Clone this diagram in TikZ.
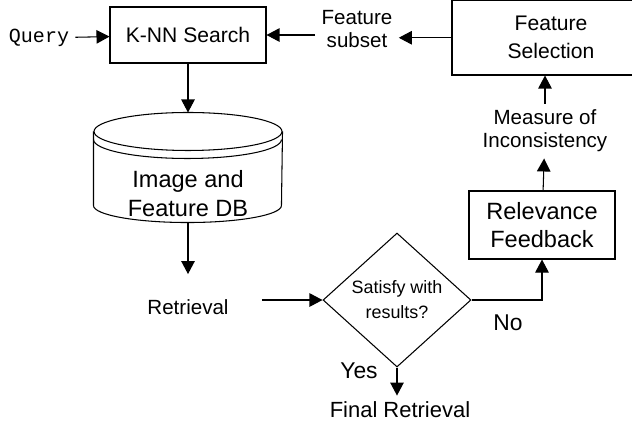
\documentclass[tikz,border=0pt]{standalone}
\usepackage{fontspec}
\setmainfont{Liberation Sans}
\newfontfamily\querymono{Liberation Mono}
\usetikzlibrary{arrows.meta,positioning,calc,shapes.geometric}

\begin{document}
\begin{tikzpicture}[
    x=0.02cm, y=-0.02cm,
    line width=0.6pt,
    >={Triangle[length=0.26cm, width=0.27cm]},
    box/.style={draw, align=center, inner sep=0pt,
                font=\fontsize{12}{16}\selectfont},
    bigbox/.style={draw, align=center, inner sep=0pt,
                font=\fontsize{13.4}{15.5}\selectfont},
    txt/.style={align=center, font=\fontsize{11.7}{13.1}\selectfont},
    decision/.style={draw, diamond, aspect=1.1, align=center, inner sep=0pt,
                minimum width=2.96cm, minimum height=2.68cm,
                font=\fontsize{10.2}{14.2}\selectfont},
    answer/.style={font=\fontsize{13}{15}\selectfont},
]
\useasboundingbox (0,0) rectangle (632,434);

%% ---- TOP ROW: query, search, feature selection ----
\node[font=\querymono\fontsize{11.4}{13}\selectfont] (query) at (39,38) {Query};
\node[box, minimum width=3.12cm, minimum height=1.12cm] (knn) at (188,35) {K-NN Search};
\node[txt] (subset) at (357,29) {Feature\\subset};
% runs past the right margin
\node[box, minimum width=3.96cm, minimum height=1.49cm] (fsel) at (551,37.75) {Feature\\Selection};

%% ---- DATABASE (drawn as a cylinder round an empty node) ----
\node[minimum width=3.76cm, minimum height=2.18cm, inner sep=0pt] (db) at (188,167.5) {};
\node[align=center, font=\fontsize{13.4}{16.5}\selectfont] (dbtext) at (188,194) {Image and\\Feature DB};
\draw ($(db.north)+(0,19)$) ellipse [x radius=1.88cm, y radius=0.38cm];
\draw ($(db.north west)+(0,27)$) arc[start angle=180, end angle=360, x radius=1.88cm, y radius=0.38cm];
\draw ($(db.north west)+(0,19)$) -- ($(db.south west)+(0,-17)$)
      arc[start angle=180, end angle=360, x radius=1.88cm, y radius=0.34cm]
      -- ($(db.north east)+(0,19)$);

%% ---- LOWER PART: retrieval and decision ----
\node[txt] (retr) at (188,307) {Retrieval};
\node[decision] (dia) at (397,300) {Satisfy with\\results?};
\node[answer] (no)  at (508,323) {No};
\node[answer] (yes) at (359,371) {Yes};
\node[font=\fontsize{12.5}{15}\selectfont] (final) at (400,410) {Final Retrieval};

%% ---- RIGHT COLUMN: feedback loop ----
\node[bigbox, minimum width=2.92cm, minimum height=1.36cm] (relfb) at (542,225) {Relevance\\Feedback};
\node[txt] (measure) at (545,131) {Measure of\\Inconsistency};

%% ---- ARROWS ----
\draw[->] (query) -- (knn);
\draw[->] (subset.west |- knn) -- (knn);
\draw[->] (fsel) -- (subset.east |- fsel);
\draw[->] (knn) -- (db.north);
\draw[->, shorten >=0.38cm] (db.south) -- (retr.north);
\draw[->, shorten <=0.54cm] (retr.east |- dia.west) -- (dia.west);
\draw[->] (dia.east) -| (relfb.south);
\draw[->] (dia.south) -- (dia.south |- final.north);
\draw[->] (relfb) -- (measure);
\draw[->] (measure) -- (fsel.south -| measure);

\end{tikzpicture}
\end{document}
